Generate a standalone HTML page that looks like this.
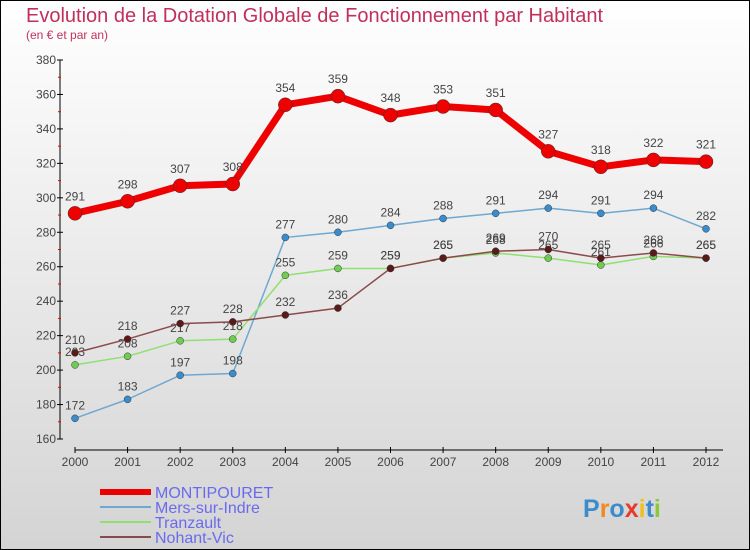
<!DOCTYPE html>
<html><head><meta charset="utf-8"><style>
body{margin:0;width:750px;height:550px;overflow:hidden;font-family:"Liberation Sans",sans-serif}
svg{display:block}
</style></head><body>
<svg id="c" width="750" height="550">
<defs><linearGradient id="bg" x1="0" y1="0" x2="0" y2="1"><stop offset="0" stop-color="#ffffff"/><stop offset="1" stop-color="#d4d4d4"/></linearGradient></defs>
<rect x="0.5" y="0.5" width="749" height="549" fill="url(#bg)" stroke="#000"/>
<text x="26" y="22" font-size="20" fill="#c0305a">Evolution de la Dotation Globale de Fonctionnement par Habitant</text>
<text x="26" y="39" font-size="12" fill="#c0305a">(en € et par an)</text>
<g id="axes"></g><g id="series"></g><g id="legend"></g>
<text x="583" y="517" font-size="25" font-weight="bold"><tspan fill="#3a8ccc">P</tspan><tspan fill="#f08a20">r</tspan><tspan fill="#3a8ccc">o</tspan><tspan fill="#e83a2a">x</tspan><tspan fill="#f0c020">i</tspan><tspan fill="#3a8ccc">t</tspan><tspan fill="#8cc83a">i</tspan></text>
</svg>
<script>
const years=[2000,2001,2002,2003,2004,2005,2006,2007,2008,2009,2010,2011,2012];
const montipouret=[291,298,307,308,354,359,348,353,351,327,318,322,321];
const mers=[172,183,197,198,277,280,284,288,291,294,291,294,282];
const tranzault=[203,208,217,218,255,259,259,265,268,265,261,266,265];
const nohant=[210,218,227,228,232,236,259,265,269,270,265,268,265];
const yTicks=[160,180,200,220,240,260,280,300,320,340,360,380];
const NS="http://www.w3.org/2000/svg";
function el(t,a,p){const e=document.createElementNS(NS,t);for(const k in a)e.setAttribute(k,a[k]);p.appendChild(e);return e;}
const x=i=>75+i*(706-75)/12;
const y=v=>439-(v-160)*(439-60)/220;
const ax=document.getElementById('axes');
const yl=el('line',{x1:60,y1:60,x2:60,y2:439,stroke:'#000'},ax);


yTicks.forEach(v=>{
 el('line',{x1:57,y1:y(v),x2:63,y2:y(v),stroke:'#000'},ax);
 if(v<380) el('line',{x1:58,y1:y(v+10),x2:61,y2:y(v+10),stroke:'#e00'},ax);
 const t=el('text',{x:56,y:y(v)+4,'font-size':12,fill:'#444','text-anchor':'end'},ax);t.textContent=v;
 
 
});
const xl=el('line',{x1:75,y1:450,x2:723,y2:450,stroke:'#000'},ax);


years.forEach((yr,i)=>{
 el('line',{x1:x(i),y1:447,x2:x(i),y2:453,stroke:'#000'},ax);
 const t=el('text',{x:x(i),y:466,'font-size':12,fill:'#444','text-anchor':'middle'},ax);t.textContent=yr;
 
 
});
const sg=document.getElementById('series');
function series(name,data,color,dot,w,r,lab){
 const g=el('g',{},sg);
 
 
 el('polyline',{points:data.map((v,i)=>x(i)+','+y(v)).join(' '),fill:'none',stroke:color,'stroke-width':w,'stroke-linejoin':'round'},g);
 data.forEach((v,i)=>{
  const c=el('circle',{cx:x(i),cy:y(v),r:r,fill:dot,stroke:'#333','stroke-width':0.5},g);
  
  
  const t=el('text',{x:x(i),y:y(v)-lab,'font-size':12,fill:'#444','text-anchor':'middle'},g);t.textContent=v;
  
  
 });
}
series('mers',mers,'#6fa8d0','#3a8ccc',1.5,3.5,9);
series('tranzault',tranzault,'#90e070','#70cc50',1.5,3.5,9);
series('nohant',nohant,'#8b4a4a','#5a1a1a',1.5,3.5,9);
series('montipouret',montipouret,'#ee0000','#ee0000',7,7,13);
const lg=document.getElementById('legend');
const items=[['MONTIPOURET','#ee0000',6],['Mers-sur-Indre','#6fa8d0',2],['Tranzault','#90e070',2],['Nohant-Vic','#8b4a4a',2]];
items.forEach((it,i)=>{
 const yy=492+i*15;
 const g=el('g',{},lg);
 
 
 el('line',{x1:100,y1:yy,x2:151,y2:yy,stroke:it[1],'stroke-width':it[2]},g);
 const t=el('text',{x:155,y:yy+6,'font-size':16,fill:'#6a6aee'},g);t.textContent=it[0];
});
</script>
</body></html>
